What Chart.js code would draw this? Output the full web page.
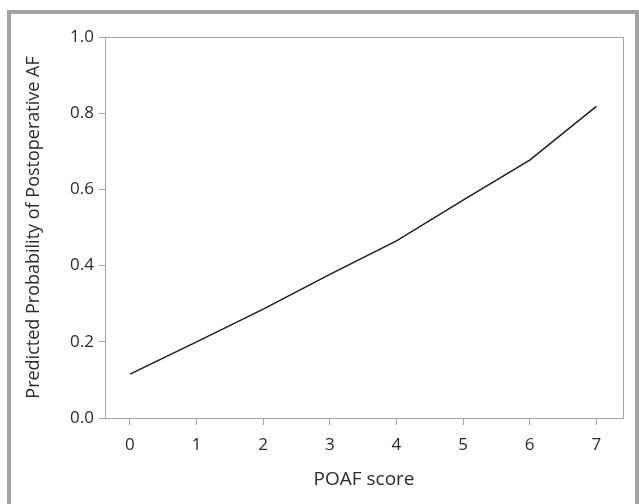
<!DOCTYPE html>
<html>
<head>
<meta charset="utf-8">
<script src="https://cdn.jsdelivr.net/npm/chart.js@4"></script>
<style>
    html, body { margin: 0; padding: 0; background: #fff; overflow: hidden; }
    #wrap { position: relative; width: 639px; height: 504px; }
    #frame {
        position: absolute; left: 7px; top: 10px; width: 624px; height: 520px;
        border: 4px solid #a3a3a3; pointer-events: none;
    }
</style>
</head>
<body>
<div id="wrap">
    <canvas id="chart" width="639" height="504"></canvas>
    <div id="frame"></div>
</div>
<script>
// Chart data
const scores = [0, 1, 2, 3, 4, 5, 6, 7];
const probabilities = [0.115, 0.2, 0.286, 0.377, 0.465, 0.572, 0.677, 0.818];
const xTicks = [0, 1, 2, 3, 4, 5, 6, 7];
const yTicks = [0.0, 0.2, 0.4, 0.6, 0.8, 1.0];

const axisColor = '#a6a6a6';
const textColor = '#2b2b2b';

// Box around the plot area
const boxPlugin = {
    id: 'box',
    afterDraw(chart) {
        const { ctx, chartArea } = chart;
        ctx.save();
        ctx.strokeStyle = axisColor;
        ctx.lineWidth = 1;
        ctx.strokeRect(Math.round(chartArea.left) + 0.5, Math.round(chartArea.top) + 0.5,
            Math.round(chartArea.right - chartArea.left), Math.round(chartArea.bottom - chartArea.top));
        ctx.restore();
    }
};

const ctx = document.getElementById('chart').getContext('2d');
new Chart(ctx, {
    type: 'line',
    data: {
        datasets: [{
            data: scores.map((s, i) => ({ x: s, y: probabilities[i] })),
            borderColor: '#1a1a1a',
            borderWidth: 1.4,
            pointRadius: 0,
            fill: false,
            tension: 0
        }]
    },
    options: {
        responsive: false,
        animation: false,
        layout: { padding: { top: 37, right: 16, left: 0, bottom: 0 } },
        plugins: { legend: { display: false }, tooltip: { enabled: false } },
        scales: {
            x: {
                type: 'linear',
                min: -0.375,
                max: 7.4,
                afterBuildTicks: scale => { scale.ticks = xTicks.map(v => ({ value: v })); },
                afterFit: scale => { scale.height = 86; },
                grid: { drawOnChartArea: false, tickLength: 7, color: axisColor },
                border: { color: axisColor },
                ticks: {
                    color: textColor,
                    padding: 10,
                    font: { family: 'Open Sans', size: 17 }
                },
                title: {
                    display: true,
                    text: 'POAF score',
                    color: textColor,
                    font: { family: 'Open Sans', size: 19 },
                    padding: { top: 0, bottom: 13 }
                }
            },
            y: {
                min: 0,
                max: 1,
                afterBuildTicks: scale => { scale.ticks = yTicks.map(v => ({ value: v })); },
                afterFit: scale => { scale.width = 105; },
                grid: { drawOnChartArea: false, tickLength: 6, color: axisColor },
                border: { color: axisColor },
                ticks: {
                    color: textColor,
                    padding: 5,
                    font: { family: 'Open Sans', size: 17 },
                    callback: v => v.toFixed(1)
                },
                title: {
                    display: true,
                    text: 'Predicted Probability of Postoperative AF',
                    color: textColor,
                    font: { family: 'Open Sans', size: 18 },
                    padding: { top: 23, bottom: 0 }
                }
            }
        }
    },
    plugins: [boxPlugin]
});
</script>
</body>
</html>
